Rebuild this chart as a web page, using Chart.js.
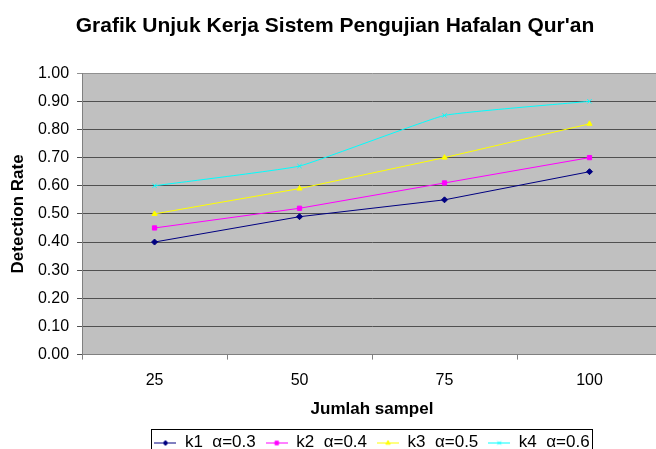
<!DOCTYPE html>
<html>
<head>
<meta charset="utf-8">
<script src="https://cdn.jsdelivr.net/npm/chart.js@4"></script>
<style>
  html, body { margin: 0; padding: 0; background: #fff; overflow: hidden; }
  #wrap { width: 656px; height: 449px; overflow: hidden; }
</style>
</head>
<body>
<div id="wrap"><canvas id="chart" width="670" height="461"></canvas></div>
<script>
// data
const sampleSizes = ["25", "50", "75", "100"];
const k1 = [0.40, 0.49, 0.55, 0.65];
const k2 = [0.45, 0.52, 0.61, 0.70];
const k3 = [0.50, 0.59, 0.70, 0.82];
const k4 = [0.60, 0.67, 0.85, 0.90];
const seriesNames = ["k1  α=0.3", "k2  α=0.4", "k3  α=0.5", "k4  α=0.6"];
const yTicks = [0, 0.1, 0.2, 0.3, 0.4, 0.5, 0.6, 0.7, 0.8, 0.9, 1.0];

const FONT = "'Liberation Sans', Arial, sans-serif";
const LEGEND_PAD = 10;

// gray plot background like the old excel charts
const plotBg = {
  id: "plotBg",
  beforeDraw(chart) {
    const a = chart.chartArea;
    const ctx = chart.ctx;
    ctx.save();
    ctx.fillStyle = "#c0c0c0";
    ctx.fillRect(a.left, a.top, a.right - a.left, a.bottom - a.top);
    ctx.restore();
  }
};

// center the legend under the plot, not the canvas, and box it
const legendBox = {
  id: "legendBox",
  afterLayout(chart) {
    const lg = chart.legend;
    const a = chart.chartArea;
    const shift = (a.left + a.right) / 2 - (lg.left + lg.right) / 2;
    lg.left += shift;
    lg.right += shift;
  },
  afterDraw(chart) {
    const lg = chart.legend;
    if (!lg || !lg.lineWidths) return;
    const lw = lg.lineWidths[0];
    const start = (lg.left + LEGEND_PAD + lg.right - lw) / 2;
    const x1 = start - 3;
    const x2 = start + lw - LEGEND_PAD + 3;
    const midY = lg.top + lg.height / 2;
    const y1 = midY - 14;
    const ctx = chart.ctx;
    ctx.save();
    ctx.strokeStyle = "#000";
    ctx.lineWidth = 1;
    ctx.strokeRect(Math.round(x1) + 0.5, Math.round(y1) + 0.5, Math.round(x2 - x1), 40);
    ctx.restore();
  }
};

// legend sample: short line with the marker in the middle
function legendIcon(color, style) {
  const c = document.createElement("canvas");
  c.width = 22; c.height = 10;
  const ctx = c.getContext("2d");
  ctx.strokeStyle = color;
  ctx.fillStyle = color;
  ctx.lineWidth = 1;
  ctx.beginPath(); ctx.moveTo(0, 5.5); ctx.lineTo(22, 5.5); ctx.stroke();
  Chart.helpers.drawPoint(ctx, { pointStyle: style, radius: 2.5, borderWidth: 1 }, 11, 5.5);
  return c;
}

function makeSet(label, data, color, style, tension) {
  return {
    label: label,
    data: data,
    borderColor: color,
    backgroundColor: color,
    borderWidth: 1,
    pointStyle: style,
    pointRadius: 3,
    pointBorderColor: color,
    pointBackgroundColor: color,
    tension: tension || 0
  };
}

const colors = ["#000080", "#ff00ff", "#ffff00", "#00ffff"];
const styles = ["rectRot", "rect", "triangle", "crossRot"];

new Chart(document.getElementById("chart"), {
  type: "line",
  data: {
    labels: sampleSizes,
    datasets: [
      makeSet(seriesNames[0], k1, colors[0], styles[0]),
      makeSet(seriesNames[1], k2, colors[1], styles[1]),
      makeSet(seriesNames[2], k3, colors[2], styles[2]),
      makeSet(seriesNames[3], k4, colors[3], styles[3], 0.1)
    ]
  },
  options: {
    responsive: false,
    animation: false,
    layout: { padding: { left: 8, right: 8, top: 0, bottom: 0 } },
    plugins: {
      title: {
        display: true,
        text: "Grafik Unjuk Kerja Sistem Pengujian Hafalan Qur'an",
        color: "#000",
        font: { family: FONT, size: 21, weight: "bold" },
        padding: { top: 14, bottom: 34 }
      },
      legend: {
        position: "bottom",
        labels: {
          color: "#000",
          font: { family: FONT, size: 17 },
          usePointStyle: true,
          pointStyleWidth: 22,
          padding: LEGEND_PAD,
          generateLabels(chart) {
            return chart.data.datasets.map((ds, i) => ({
              text: ds.label,
              pointStyle: legendIcon(colors[i], styles[i]),
              fontColor: "#000",
              datasetIndex: i,
              lineWidth: 0,
              strokeStyle: "transparent",
              fillStyle: "transparent"
            }));
          }
        }
      },
      tooltip: { enabled: false }
    },
    scales: {
      x: {
        offset: true,
        grid: {
          offset: true,
          drawOnChartArea: false,
          color: "#808080",
          tickLength: 5
        },
        border: { color: "#808080" },
        ticks: {
          color: "#000",
          font: { family: FONT, size: 16 },
          padding: 11,
          maxRotation: 0
        },
        title: {
          display: true,
          text: "Jumlah sampel",
          color: "#000",
          font: { family: FONT, size: 17, weight: "bold" },
          padding: { top: -2, bottom: 4.8 }
        }
      },
      y: {
        min: 0,
        max: 1,
        afterBuildTicks(axis) {
          axis.ticks = yTicks.map(v => ({ value: v }));
        },
        grid: {
          color: (ctx) => ctx.tick && ctx.tick.value === 1 ? "#909090" : "#505050",
          tickLength: 5
        },
        border: { color: "#808080" },
        ticks: {
          color: "#000",
          font: { family: FONT, size: 16 },
          padding: 8,
          callback: (v) => Number(v).toFixed(2)
        },
        title: {
          display: true,
          text: "Detection Rate",
          color: "#000",
          font: { family: FONT, size: 17, weight: "bold" },
          padding: { top: 0, bottom: 1.5 }
        }
      }
    }
  },
  plugins: [plotBg, legendBox]
});
</script>
</body>
</html>
